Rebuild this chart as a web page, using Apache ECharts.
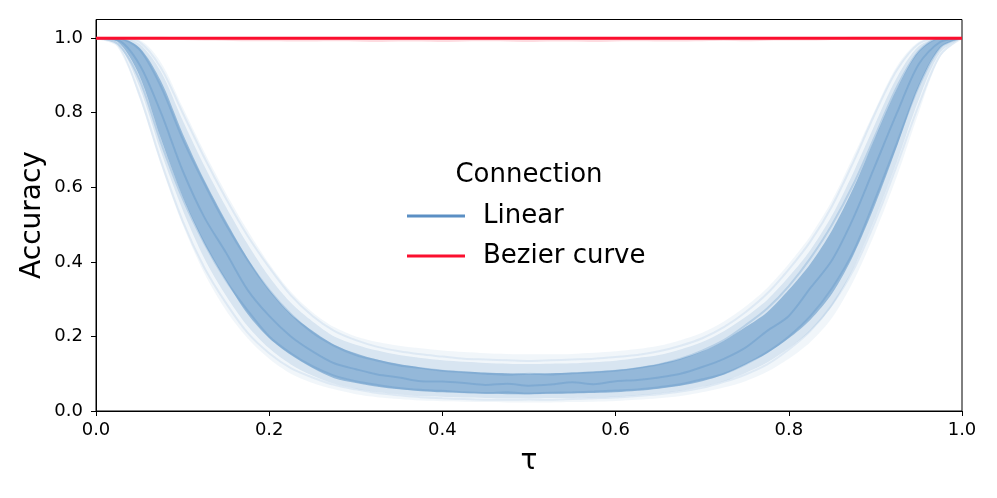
<!DOCTYPE html>
<html>
<head>
<meta charset="utf-8">
<script src="https://cdn.jsdelivr.net/npm/echarts@6/dist/echarts.min.js"></script>
<style>
  html, body { margin: 0; padding: 0; background: #fff; }
  #chart { width: 997px; height: 498px; }
</style>
</head>
<body>
<div id="chart"></div>
<script>
// tau grid (step 0.025)
const tau = [0, 0.025, 0.05, 0.075, 0.1, 0.125, 0.15, 0.175, 0.2, 0.225, 0.25, 0.275, 0.3, 0.325, 0.35, 0.375, 0.4,
  0.425, 0.45, 0.475, 0.5, 0.525, 0.55, 0.575, 0.6, 0.625, 0.65, 0.675, 0.7, 0.725, 0.75, 0.775, 0.8,
  0.825, 0.85, 0.875, 0.9, 0.925, 0.95, 0.975, 1.0];

const yTicks = [0, 0.2, 0.4, 0.6, 0.8, 1.0];

// Linear connection: spread of the runs (outer = faint edge, mid, inner = dense core)
const linOuterLo = [1.0, 0.98, 0.84, 0.66, 0.5, 0.37, 0.27, 0.195, 0.14, 0.1, 0.075, 0.058, 0.045, 0.037, 0.032, 0.028, 0.026,
  0.025, 0.024, 0.023, 0.023, 0.023, 0.024, 0.025, 0.027, 0.03, 0.034, 0.04, 0.05, 0.063, 0.08, 0.105, 0.14,
  0.185, 0.25, 0.35, 0.48, 0.63, 0.8, 0.95, 1.0];
const linOuterHi = [1.0, 1.0, 0.995, 0.935, 0.815, 0.695, 0.585, 0.485, 0.395, 0.32, 0.265, 0.225, 0.2, 0.185, 0.175, 0.168, 0.162,
  0.158, 0.155, 0.153, 0.152, 0.152, 0.153, 0.156, 0.16, 0.166, 0.175, 0.19, 0.21, 0.24, 0.28, 0.33, 0.395,
  0.47, 0.565, 0.685, 0.81, 0.925, 0.99, 1.0, 1.0];
const linMidLo = [1.0, 0.985, 0.87, 0.695, 0.54, 0.41, 0.31, 0.228, 0.168, 0.125, 0.095, 0.073, 0.06, 0.051, 0.045, 0.04, 0.038,
  0.036, 0.035, 0.034, 0.034, 0.035, 0.035, 0.036, 0.038, 0.042, 0.047, 0.054, 0.065, 0.08, 0.102, 0.13, 0.168,
  0.215, 0.282, 0.385, 0.518, 0.67, 0.835, 0.962, 1.0];
const linMidHi = [1.0, 1.0, 0.985, 0.91, 0.78, 0.658, 0.548, 0.448, 0.36, 0.29, 0.24, 0.2, 0.178, 0.162, 0.15, 0.142, 0.136,
  0.132, 0.129, 0.127, 0.126, 0.127, 0.128, 0.131, 0.135, 0.142, 0.15, 0.165, 0.185, 0.214, 0.252, 0.298, 0.36,
  0.432, 0.525, 0.642, 0.772, 0.895, 0.978, 1.0, 1.0];
const linInnerLo = [1.0, 0.99, 0.9, 0.73, 0.575, 0.45, 0.35, 0.26, 0.195, 0.15, 0.115, 0.088, 0.075, 0.065, 0.058, 0.053, 0.05,
  0.048, 0.046, 0.045, 0.045, 0.046, 0.047, 0.048, 0.05, 0.054, 0.06, 0.068, 0.08, 0.098, 0.125, 0.155, 0.195,
  0.245, 0.315, 0.42, 0.555, 0.71, 0.87, 0.975, 1.0];
const linInnerHi = [1.0, 1.0, 0.975, 0.885, 0.745, 0.62, 0.51, 0.41, 0.325, 0.26, 0.215, 0.178, 0.155, 0.138, 0.126, 0.117, 0.11,
  0.106, 0.103, 0.101, 0.1, 0.101, 0.103, 0.106, 0.11, 0.117, 0.126, 0.14, 0.16, 0.188, 0.225, 0.265, 0.325,
  0.395, 0.485, 0.6, 0.735, 0.865, 0.965, 1.0, 1.0];

// a few individual Linear runs
const linRunA = [1.0, 0.985, 0.89, 0.72, 0.57, 0.45, 0.35, 0.27, 0.2, 0.155, 0.12, 0.095, 0.08, 0.07, 0.062, 0.057, 0.054,
  0.05, 0.048, 0.05, 0.047, 0.049, 0.05, 0.052, 0.055, 0.058, 0.064, 0.072, 0.085, 0.1, 0.125, 0.158, 0.2,
  0.255, 0.33, 0.43, 0.57, 0.72, 0.87, 0.975, 1.0];
const linRunB = [1.0, 1.0, 0.97, 0.87, 0.73, 0.61, 0.5, 0.405, 0.325, 0.26, 0.21, 0.175, 0.15, 0.135, 0.122, 0.115, 0.108,
  0.104, 0.1, 0.097, 0.1, 0.098, 0.101, 0.104, 0.108, 0.115, 0.125, 0.14, 0.162, 0.19, 0.23, 0.275, 0.335,
  0.41, 0.5, 0.61, 0.74, 0.87, 0.965, 1.0, 1.0];
const linRunC = [1.0, 0.995, 0.93, 0.8, 0.645, 0.52, 0.425, 0.325, 0.255, 0.2, 0.16, 0.128, 0.112, 0.098, 0.09, 0.08, 0.079,
  0.075, 0.07, 0.073, 0.068, 0.071, 0.077, 0.072, 0.08, 0.083, 0.09, 0.1, 0.118, 0.14, 0.17, 0.215, 0.255,
  0.33, 0.405, 0.52, 0.66, 0.8, 0.93, 0.99, 1.0];
const linRunD = [1.0, 0.98, 0.85, 0.67, 0.51, 0.385, 0.29, 0.21, 0.155, 0.115, 0.09, 0.07, 0.058, 0.048, 0.042, 0.037, 0.034,
  0.032, 0.03, 0.03, 0.031, 0.03, 0.032, 0.034, 0.036, 0.04, 0.045, 0.052, 0.062, 0.078, 0.098, 0.125, 0.165,
  0.215, 0.285, 0.38, 0.51, 0.66, 0.82, 0.955, 1.0];
const linRunE = [1.0, 1.0, 0.99, 0.92, 0.8, 0.68, 0.57, 0.47, 0.385, 0.31, 0.255, 0.215, 0.19, 0.172, 0.16, 0.152, 0.146,
  0.14, 0.138, 0.136, 0.134, 0.136, 0.138, 0.14, 0.145, 0.15, 0.16, 0.175, 0.195, 0.225, 0.265, 0.315, 0.38,
  0.455, 0.55, 0.67, 0.8, 0.915, 0.985, 1.0, 1.0];

// Bezier curve connection: stays at 1.0, a few runs dip a hair
const bezMain = [1, 1, 1, 1, 1, 1, 1, 1, 1, 1, 1, 1, 1, 1, 1, 1, 1, 1, 1, 1, 1,
  1, 1, 1, 1, 1, 1, 1, 1, 1, 1, 1, 1, 1, 1, 1, 1, 1, 1, 1, 1];
const bezDipA = [1, 1, 1, 1, 0.999, 0.998, 0.997, 0.996, 0.996, 0.995, 0.995, 0.996, 0.995, 0.994, 0.995, 0.995, 0.994,
  0.995, 0.996, 0.995, 0.994, 0.995, 0.995, 0.994, 0.995, 0.996, 0.995, 0.995, 0.996, 0.997, 0.996, 0.997, 0.998,
  0.998, 0.999, 1, 1, 1, 1, 1, 1];

const BLUE = '#4f8bc2';
const RED = '#fb0f2e';

const chart = echarts.init(document.getElementById('chart'), null, { renderer: 'canvas' });

function band(name, lo, hi, stack, opacity) {
  return [
    { name: name + ' base', type: 'line', stack: stack, data: lo, symbol: 'none', smooth: 0.3,
      lineStyle: { opacity: 0 }, silent: true },
    { name: name, type: 'line', stack: stack, data: hi.map((v, i) => v - lo[i]), symbol: 'none', smooth: 0.3,
      lineStyle: { opacity: 0 }, areaStyle: { color: BLUE, opacity: opacity }, silent: true }
  ];
}

function run(name, data, opacity, width) {
  return { name: name, type: 'line', data: data, symbol: 'none', smooth: 0.3,
    lineStyle: { color: BLUE, width: width, opacity: opacity }, itemStyle: { color: BLUE } };
}

const series = [].concat(
  band('outer', linOuterLo, linOuterHi, 'o', 0.08),
  band('mid', linMidLo, linMidHi, 'm', 0.16),
  band('inner', linInnerLo, linInnerHi, 'i', 0.5),
  [
    run('runD', linRunD, 0.12, 2),
    run('runE', linRunE, 0.12, 2),
    run('runA', linRunA, 0.25, 2),
    run('runB', linRunB, 0.25, 2),
    run('Linear', linRunC, 0.3, 2),
    { name: 'bezDip', type: 'line', data: bezDipA, symbol: 'none', smooth: 0.3,
      lineStyle: { color: RED, width: 3, opacity: 0.15 } },
    { name: 'Bezier curve', type: 'line', data: bezMain, symbol: 'none',
      lineStyle: { color: RED, width: 3 }, itemStyle: { color: RED } }
  ]
);

const tickEvery = (i) => i % 8 === 0;

chart.setOption({
  animation: false,
  textStyle: { fontFamily: 'DejaVu Sans' },
  grid: { left: 96, right: 35, top: 19.5, bottom: 87, show: true, borderColor: '#000', borderWidth: 1 },
  xAxis: {
    type: 'category', data: tau, boundaryGap: false,
    axisLine: { lineStyle: { color: '#000', width: 1 } },
    axisTick: { interval: tickEvery, length: 5, lineStyle: { color: '#000' } },
    axisLabel: { interval: tickEvery, color: '#000', fontSize: 18, margin: 10,
      formatter: (v) => Number(v).toFixed(1) },
    splitLine: { show: false }
  },
  yAxis: {
    type: 'value', min: 0, max: 1.05,
    axisLine: { show: true, lineStyle: { color: '#000', width: 1 } },
    axisTick: { show: true, customValues: yTicks, length: 5, lineStyle: { color: '#000' } },
    axisLabel: { customValues: yTicks, color: '#000', fontSize: 18, margin: 13,
      formatter: (v) => v.toFixed(1) },
    splitLine: { show: false }
  },
  legend: {
    left: 402, top: 198, orient: 'vertical', icon: 'rect',
    itemWidth: 58, itemHeight: 3, itemGap: 14,
    textStyle: { fontSize: 26, color: '#000', padding: [0, 0, 0, 13] },
    data: [
      { name: 'Linear', itemStyle: { color: '#5b8fc4', opacity: 1 } },
      { name: 'Bezier curve', itemStyle: { color: RED, opacity: 1 } }
    ]
  },
  graphic: [
    { type: 'text', x: 529, y: 175, style: { text: 'Connection', fontSize: 26, fontFamily: 'DejaVu Sans',
      fill: '#000', align: 'center', verticalAlign: 'middle' } },
    { type: 'text', x: 33, y: 215, rotation: Math.PI / 2, style: { text: 'Accuracy', fontSize: 28,
      fontFamily: 'DejaVu Sans', fill: '#000', align: 'center', verticalAlign: 'middle' } },
    { type: 'text', x: 529, y: 462, style: { text: 'τ', fontSize: 28, fontFamily: 'DejaVu Sans',
      fill: '#000', align: 'center', verticalAlign: 'middle' } }
  ],
  series: series
});
</script>
</body>
</html>
